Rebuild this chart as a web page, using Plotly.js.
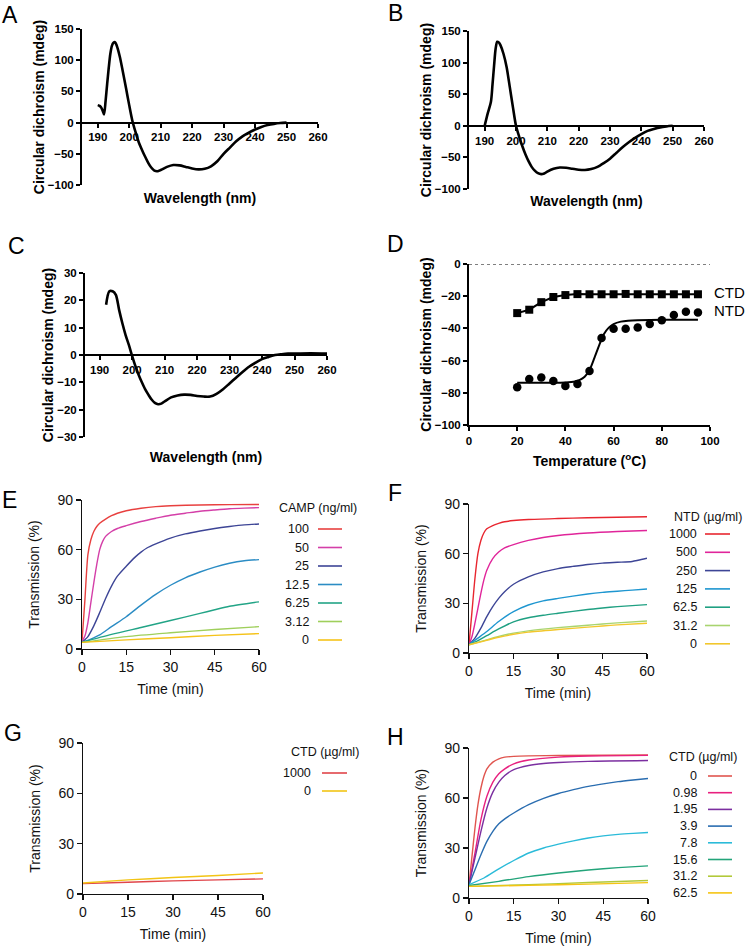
<!DOCTYPE html>
<html><head><meta charset="utf-8">
<script src="https://cdn.plot.ly/plotly-3.0.1.min.js"></script>
<style>body{margin:0;background:#fff}#chart{width:745px;height:951px}</style>
</head><body><div id="chart"></div>
<script>
const W = 745, H = 951;

// ---------- Panel A: CD spectrum ----------
const wlA = [190,190.5,191,191.5,192,192.5,193,193.5,194,194.5,195,195.5,196,197,198,199,200,201,202,203,204,205,206,207,208,209,210,212,214,216,218,220,222,224,226,228,230,232,234,236,238,240,242,244,246,248,250];
const cdA = [28,27,25,20,13,35,62,88,110,123,128,129,124,106,81,55,28,3,-15,-31,-43,-54,-64,-72,-77,-78,-76,-71,-68,-68.5,-71,-73.5,-75,-74,-70,-62,-50,-40,-30,-22,-16,-11,-7,-4,-2,-0.7,0];
// ---------- Panel B ----------
const wlB = [190,191,192,192.5,193,193.5,194,194.5,195,196,197,198,199,200,201,202,203,204,205,206,207,208,209,210,212,214,216,218,220,222,224,226,228,230,232,234,236,238,240,242,244,246,248,250];
const cdB = [0,20,38,65,95,122,133,132,128,114,93,62,30,0,-17,-32,-45,-56,-65,-71,-75,-76.5,-75.5,-72.5,-68,-66,-66.5,-68,-69.5,-70,-68.5,-65,-59,-52,-43,-34,-26,-19,-13,-8,-5,-2.5,-1,0];
// ---------- Panel C ----------
const wlC = [192,193,194,195,196,197,198,199,200,201,202,203,204,205,206,207,208,209,210,212,214,216,218,220,222,224,226,228,230,232,234,236,238,240,242,244,246,248,250,255,260];
const cdC = [18.4,23.3,23.3,22,16.5,11.6,7.3,3.7,-0.3,-4,-7.2,-10,-12.5,-14.5,-16.3,-17.5,-18,-17.8,-17,-15.5,-14.8,-14.5,-14.6,-15,-15.2,-15.2,-14.2,-12.5,-10.4,-8.3,-6.2,-4.3,-2.8,-1.5,-0.7,0,0.3,0.5,0.5,0.6,0.5];
// ---------- Panel D: thermal denaturation ----------
const tempD = [20,25,30,35,40,45,50,55,60,65,70,75,80,85,90,95];
const ctdD = [-30.5,-28.4,-23.7,-20.5,-19.3,-18.7,-18.8,-18.8,-18.8,-18.6,-18.8,-18.8,-18.8,-18.8,-18.8,-18.8];
const ntdD = [-76.6,-71.4,-70.5,-72.6,-75.7,-74.5,-66.4,-46,-40.2,-40.2,-39.4,-37.3,-34.9,-31.7,-29.7,-30.1];
const ntdFitT = [20,30,40,44,46,48,50,52,54,56,58,60,63,66,70,80,95];
const ntdFitV = [-73.8,-73.8,-73.6,-73,-72,-70,-66,-58.5,-50.5,-43.5,-39.5,-37.3,-35.8,-35.2,-34.9,-34.7,-34.6];

// ---------- Panel E: CAMP ----------
const eLabels = ['100','50','25','12.5','6.25','3.12','0'];
const eColors = ['#e8403f','#d43fa8','#3d4596','#2b8cc4','#22a486','#9fcf5b','#f5c31a'];
const eT = [
  [0,1,2,3,4,5,6,8,10,12,15,20,25,30,40,50,60],
  [0,1,2,3,4,5,6,7,8,10,12,15,20,25,30,35,40,45,50,55,60],
  [0,2,4,6,8,10,12,15,18,20,22,25,30,35,40,45,50,55,60],
  [0,3,6,10,15,20,25,30,35,40,45,50,55,60],
  [0,10,20,30,40,45,50,60],
  [0,15,30,45,60],
  [0,15,30,45,60]
];
const eV = [
  [4.5,30,57,66,71,74,76,78.5,80.5,82,83.5,85,86,86.5,87,87.2,87.3],
  [4.5,8,16,28,40,51,60,65,68,71,72.8,74.5,77,79,80.8,82,83.2,84,84.7,85.1,85.4],
  [4,7.5,14,22,30.5,38,44,50,55.5,58.5,61,63.5,67,69.5,71.3,72.8,74,75,75.5],
  [4,6,8.5,13.5,19.5,26.5,33,38.5,43,46.5,49.5,51.8,53.3,54],
  [4,8.8,13,17.2,21.5,23.7,25.8,28.5],
  [4,7.5,9.8,11.8,13.5],
  [4,5.5,6.8,8.2,9.3]
];
// ---------- Panel F: NTD ----------
const fLabels = ['1000','500','250','125','62.5','31.2','0'];
const fColors = ['#e8262f','#e0259a','#3d4596','#1e96d0','#1fa082','#a8d46f','#f2c72c'];
const fT = [
  [0,1,2,3,4,5,6,8,10,12,15,20,30,40,50,60],
  [0,1,2,3,4,5,6,8,10,12,15,20,25,30,40,50,60],
  [0,2,4,6,8,10,12,15,20,25,30,35,40,45,50,55,57,60],
  [0,3,6,10,15,20,25,30,40,45,50,55,60],
  [0,3,6,10,15,20,25,30,40,45,50,55,60],
  [0,5,10,15,20,30,40,45,50,60],
  [0,5,10,15,20,30,40,45,50,60]
];
const fV = [
  [5,25,45,60,68,72.5,75,77,78.3,79.3,80,80.6,81.2,81.7,82,82.3],
  [5,10,18,27,36,44,50,57,61,63.5,65.5,68,69.8,71,72.5,73.4,74],
  [5,9,15,22,28,33,37,41.5,46,49,51,52.3,53.5,54.3,54.8,55.3,56,57.2],
  [5,9,13,19,25,29,31.5,33,35.6,36.6,37.3,38,38.7],
  [5,7.5,10.5,14.5,18.8,21.3,22.8,24,26.3,27.2,28,28.6,29.2],
  [5,7.5,10,12,13.4,15.3,16.8,17.5,18.2,19.3],
  [5,7.2,9.5,11.3,12.6,14.2,15.6,16.3,17,18]
];
// ---------- Panel G: CTD ----------
const gLabels = ['1000','0'];
const gColors = ['#e0454a','#f2c415'];
const gT = [[0,15,30,45,60],[0,15,30,45,60]];
const gV = [[6.2,7,7.8,8.4,9],[6.6,8.4,9.8,11,12.5]];
// ---------- Panel H: CTD inhibition ----------
const hLabels = ['0','0.98','1.95','3.9','7.8','15.6','31.2','62.5'];
const hColors = ['#e0554f','#e8207f','#7b2fa0','#2a6db0','#2bbbd9','#23a47a','#b2c93a','#f5c413'];
const hT = [
  [0,1,2,3,4,5,6,8,10,12,15,20,30,60],
  [0,2,4,6,8,10,12,15,20,30,40,60],
  [0,2,4,6,8,10,12,15,20,25,30,40,60],
  [0,2,4,6,8,10,12,15,20,25,30,35,40,45,50,55,60],
  [0,5,10,15,20,25,30,35,40,45,50,55,60],
  [0,10,20,30,40,50,60],
  [0,20,40,60],
  [0,20,40,60]
];
const hV = [
  [8,25,42,56,66,73,77.5,81.5,83.5,84.5,85,85.3,85.5,85.8],
  [8,27,47,61,69.5,74.5,77.5,80.5,82.8,84.5,85.2,85.6],
  [8,24,40,54,63.5,69.5,73.5,77,79.5,80.7,81.3,82,82.5],
  [8,17,26,34,40,44.5,47.5,51,56,59.8,62.7,65,67,68.5,69.8,70.8,71.7],
  [8,12,17.5,22.5,27,30,32.3,34.3,36,37.3,38.2,38.8,39.3],
  [7.5,10,12.8,15,16.8,18.2,19.3],
  [7,8,9.3,10.5],
  [7,7.6,8.3,9.2]
];

// ---------- helpers ----------
const FONT = 'Liberation Sans, Arial, sans-serif';
const px = v => v / W;
const py = v => 1 - v / H;
const boldTick = {family: FONT, size: 11.5, color: '#000', weight: 'bold'};
const boldTitle = {family: FONT, size: 14, color: '#000', weight: 'bold'};
const regTick = {family: FONT, size: 14, color: '#111'};
const regTitle = {family: FONT, size: 14, color: '#111'};

const traces = [];
const layout = {
  width: W, height: H, margin: {l: 0, r: 0, t: 0, b: 0},
  paper_bgcolor: '#fff', plot_bgcolor: 'rgba(0,0,0,0)',
  showlegend: false, shapes: [], annotations: []
};

function cdAxes(n, left, right, top, bottom, xr, yr, ydt, zeroX, xTitle, xStand, yStand) {
  const xs = n === 1 ? '' : String(n);
  const xa = {
    domain: [px(left), px(right)], range: xr, tick0: 0, dtick: xr[1] - xr[0] > 80 ? 20 : 10,
    showgrid: false, zeroline: false, showline: true, linecolor: '#000', linewidth: 2,
    ticks: 'outside', ticklen: 4, tickwidth: 2, tickcolor: '#000', tickfont: boldTick,
    title: {text: xTitle, font: boldTitle, standoff: xStand}
  };
  if (zeroX) {
    const zpx = top + (yr[1] - 0) / (yr[1] - yr[0]) * (bottom - top);
    xa.anchor = 'free'; xa.position = py(zpx);
  } else {
    xa.anchor = 'y' + xs;
  }
  const ya = {
    domain: [py(bottom), py(top)], range: yr, tick0: 0, dtick: ydt, anchor: 'x' + xs,
    showgrid: false, zeroline: false, showline: true, linecolor: '#000', linewidth: 2,
    ticks: 'outside', ticklen: 4, tickwidth: 2, tickcolor: '#000', tickfont: boldTick,
    title: {text: 'Circular dichroism (mdeg)', font: boldTitle, standoff: yStand}
  };
  layout['xaxis' + xs] = xa; layout['yaxis' + xs] = ya;
}

function trAxes(n, left, right, top, bottom) {
  const xs = String(n);
  layout['xaxis' + xs] = {
    domain: [px(left), px(right)], range: [0, 60], tick0: 0, dtick: 15, anchor: 'y' + xs,
    showgrid: false, zeroline: false, showline: true, linecolor: '#111', linewidth: 1.2,
    ticks: 'outside', ticklen: 5, tickwidth: 1.2, tickcolor: '#111', tickfont: regTick,
    title: {text: 'Time (min)', font: regTitle, standoff: 10}
  };
  layout['yaxis' + xs] = {
    domain: [py(bottom), py(top)], range: [0, 90], tick0: 0, dtick: 30, anchor: 'x' + xs,
    showgrid: false, zeroline: false, showline: true, linecolor: '#111', linewidth: 1.2,
    ticks: 'outside', ticklen: 5, tickwidth: 1.2, tickcolor: '#111', tickfont: regTick,
    title: {text: 'Transmission (%)', font: regTitle, standoff: 14}
  };
}

function cdTrace(n, x, y) {
  const xs = n === 1 ? '' : String(n);
  traces.push({x: x, y: y, xaxis: 'x' + xs, yaxis: 'y' + xs, mode: 'lines',
    line: {color: '#000', width: 2.6, shape: 'spline', smoothing: 0.8}, hoverinfo: 'skip'});
}

function trSeries(n, T, V, colors) {
  T.forEach((t, i) => traces.push({x: t, y: V[i], xaxis: 'x' + n, yaxis: 'y' + n, mode: 'lines',
    line: {color: colors[i], width: 1.4, shape: 'spline', smoothing: 0.7}, hoverinfo: 'skip'}));
}

function legendBlock(title, titleX, titleY, titleAnchor, labels, colors, labelRight, lineX0, lineX1, y0, step) {
  layout.annotations.push({xref: 'paper', yref: 'paper', x: px(titleX), y: py(titleY), xanchor: titleAnchor, yanchor: 'middle',
    text: title, showarrow: false, font: {family: FONT, size: 12.5, color: '#111'}});
  labels.forEach((lab, i) => {
    const yy = y0 + i * step;
    layout.annotations.push({xref: 'paper', yref: 'paper', x: px(labelRight), y: py(yy), xanchor: 'right', yanchor: 'middle',
      text: lab, showarrow: false, font: {family: FONT, size: 12.5, color: '#111'}});
    layout.shapes.push({type: 'line', xref: 'paper', yref: 'paper', x0: px(lineX0), x1: px(lineX1), y0: py(yy), y1: py(yy),
      line: {color: colors[i], width: 1.6}});
  });
}

// ---------- build ----------
cdAxes(1, 82, 318, 29, 185, [185, 260], [-100, 150], 50, true, 'Wavelength (nm)', 50, 0);
cdTrace(1, wlA, cdA);
cdAxes(2, 469, 704, 31, 189, [185, 260], [-100, 150], 50, true, 'Wavelength (nm)', 50, 0);
cdTrace(2, wlB, cdB);
cdAxes(3, 85, 327, 273, 437, [185.5, 260], [-30, 30], 10, true, 'Wavelength (nm)', 76, 0);
cdTrace(3, wlC, cdC);
cdAxes(4, 469, 710, 264, 425, [0, 100], [-100, 0], 20, false, 'Temperature (<sup>o</sup>C)', 10, 0);
layout.xaxis4.dtick = 20;
traces.push({x: tempD, y: ctdD, xaxis: 'x4', yaxis: 'y4', mode: 'lines+markers',
  line: {color: '#000', width: 2}, marker: {symbol: 'square', size: 8, color: '#000'}, hoverinfo: 'skip'});
traces.push({x: ntdFitT, y: ntdFitV, xaxis: 'x4', yaxis: 'y4', mode: 'lines',
  line: {color: '#000', width: 2, shape: 'spline', smoothing: 0.6}, hoverinfo: 'skip'});
traces.push({x: tempD, y: ntdD, xaxis: 'x4', yaxis: 'y4', mode: 'markers',
  marker: {symbol: 'circle', size: 8.5, color: '#000'}, hoverinfo: 'skip'});
layout.shapes.push({type: 'line', xref: 'x4', yref: 'y4', x0: 0, x1: 100, y0: 0, y1: 0,
  line: {color: '#000', width: 1, dash: 'dot'}});
layout.annotations.push({xref: 'paper', yref: 'paper', x: px(712), y: py(292), xanchor: 'left', yanchor: 'middle',
  text: 'CTD', showarrow: false, font: {family: FONT, size: 15, color: '#000'}});
layout.annotations.push({xref: 'paper', yref: 'paper', x: px(712), y: py(311), xanchor: 'left', yanchor: 'middle',
  text: 'NTD', showarrow: false, font: {family: FONT, size: 15, color: '#000'}});

trAxes(5, 82, 259, 500, 649);
trSeries(5, eT, eV, eColors);
legendBlock('CAMP (ng/ml)', 318, 508, 'center', eLabels, eColors, 311, 318, 342, 529, 18.5);

trAxes(6, 469, 647, 504, 653);
trSeries(6, fT, fV, fColors);
legendBlock('NTD (µg/ml)', 708, 517, 'center', fLabels, fColors, 699, 705, 730, 534, 18.3);

trAxes(7, 83, 263, 743, 894);
trSeries(7, gT, gV, gColors);
legendBlock('CTD (µg/ml)', 325, 752, 'center', gLabels, gColors, 313, 322, 347, 773, 18);

trAxes(8, 469, 648, 748, 898);
trSeries(8, hT, hV, hColors);
legendBlock('CTD (µg/ml)', 667, 757, 'left', hLabels, hColors, 699, 708, 732, 776, 16.7);

// panel letters
const letters = ['A','B','C','D','E','F','G','H'];
const letterPos = [[10,15],[395,13],[16,246],[395,244],[9,500],[395,493],[13,733],[395,737]];
letters.forEach((L, i) => layout.annotations.push({xref: 'paper', yref: 'paper',
  x: px(letterPos[i][0]), y: py(letterPos[i][1]), xanchor: 'center', yanchor: 'middle',
  text: L, showarrow: false, font: {family: FONT, size: 23, color: '#000'}}));

Plotly.newPlot('chart', traces, layout, {staticPlot: true, displayModeBar: false});
</script>
</body></html>
